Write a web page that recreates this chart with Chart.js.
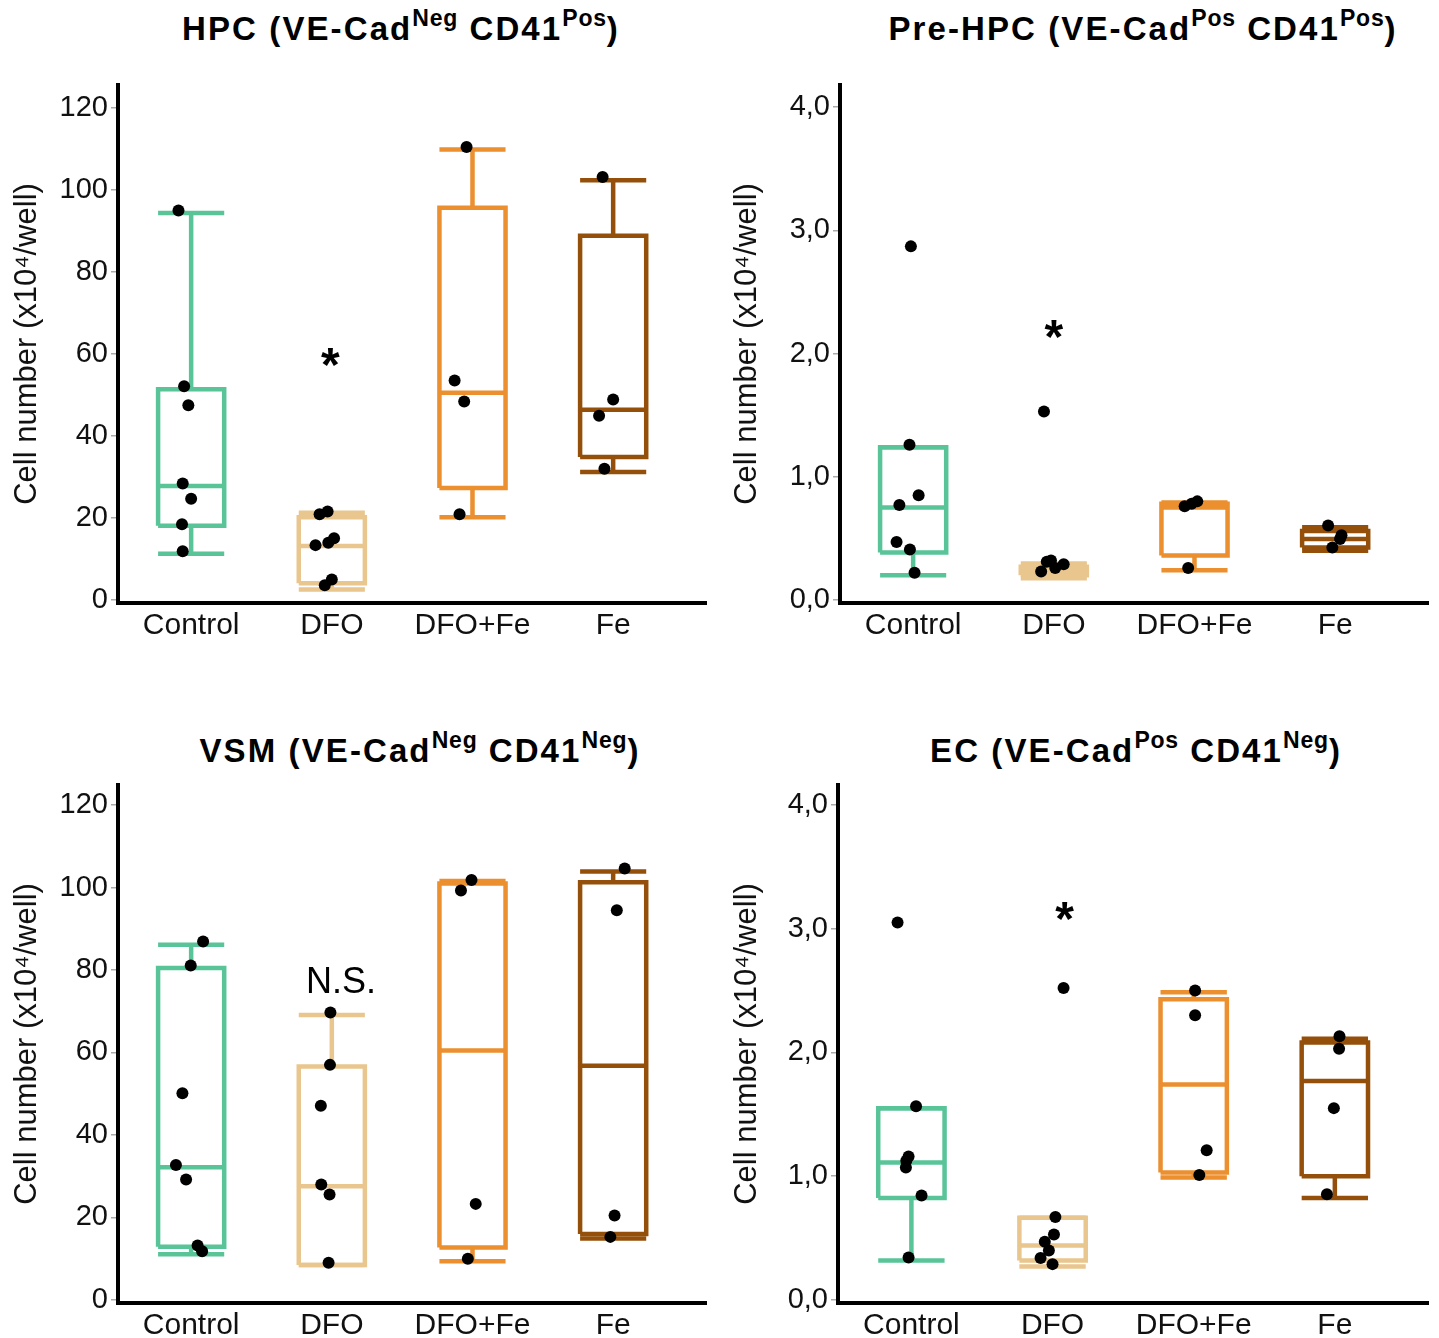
<!DOCTYPE html>
<html lang="en">
  <head>
    <meta charset="UTF-8" />
    <title>Cell numbers by treatment</title>
    <script src="https://cdn.jsdelivr.net/npm/chart.js@4"></script>
    <style>
      body {
        margin: 0;
        background: #fff;
        width: 1439px;
        height: 1338px;
        overflow: hidden;
        position: relative;
        font-family: "Liberation Sans", Arial, sans-serif;
      }
      .panel { position: absolute; }
      .title {
        position: absolute;
        font-weight: bold;
        font-size: 33px;
        letter-spacing: 2.1px;
        white-space: nowrap;
        transform: translateX(-50%);
        color: #000;
      }
      .title sup { font-size: 23px; vertical-align: 0.6em; line-height: 0; letter-spacing: 0.8px; }
    </style>
  </head>
  <body>
    <div class="title" style="left: 401px; top: 10px">HPC (VE-Cad<sup>Neg</sup> CD41<sup>Pos</sup>)</div>
    <div class="title" style="left: 1143px; top: 10px">Pre-HPC (VE-Cad<sup>Pos</sup> CD41<sup>Pos</sup>)</div>
    <div class="title" style="left: 420px; top: 732px">VSM (VE-Cad<sup>Neg</sup> CD41<sup>Neg</sup>)</div>
    <div class="title" style="left: 1136px; top: 732px">EC (VE-Cad<sup>Pos</sup> CD41<sup>Neg</sup>)</div>

    <div class="panel" style="left: 0; top: 0"><canvas id="hpc" width="720" height="660"></canvas></div>
    <div class="panel" style="left: 720px; top: 0"><canvas id="prehpc" width="719" height="660"></canvas></div>
    <div class="panel" style="left: 0; top: 700px"><canvas id="vsm" width="720" height="638"></canvas></div>
    <div class="panel" style="left: 720px; top: 700px"><canvas id="ec" width="719" height="638"></canvas></div>

    <script>
      const categories = ["Control", "DFO", "DFO+Fe", "Fe"];
      const colors = ["#58c498", "#eac68f", "#eb8f2f", "#94500a"];
      const countTicks = [0, 20, 40, 60, 80, 100, 120];
      const ratioTicks = [0, 1, 2, 3, 4];

      // box stats per group: [low whisker, Q1, median, Q3, high whisker]
      const hpcBoxes = [
        [11.3, 18.1, 27.8, 51.4, 94.3],
        [2.6, 4.1, 13.2, 20.2, 21.3],
        [20.2, 27.3, 50.5, 95.6, 109.8],
        [31.2, 34.9, 46.4, 88.8, 102.3],
      ];
      const hpcPoints = [
        [94.9, 52.1, 47.5, 28.4, 24.7, 18.5, 11.9],
        [20.9, 21.6, 13.4, 14.0, 15.1, 5.0, 3.6],
        [110.4, 53.5, 48.4, 20.9],
        [103.1, 48.9, 44.9, 32.0],
      ];
      const hpcJitter = [
        [-0.09, -0.05, -0.02, -0.06, 0.0, -0.065, -0.06],
        [-0.087, -0.03, -0.116, -0.025, 0.016, 0.0, -0.05],
        [-0.042, -0.127, -0.059, -0.092],
        [-0.075, 0.0, -0.1, -0.062],
      ];
      const hpcMarks = ["", "*", "", ""];
      const hpcMarkX = [1, 1.99, 3, 4];
      const hpcMarkY = [null, 60, null, null];

      const prehpcBoxes = [
        [0.2, 0.385, 0.75, 1.24, 1.24],
        [0.175, 0.2, 0.235, 0.27, 0.295],
        [0.24, 0.36, 0.75, 0.78, 0.79],
        [0.4, 0.425, 0.495, 0.56, 0.59],
      ];
      const prehpcPoints = [
        [2.87, 1.26, 0.85, 0.77, 0.47, 0.41, 0.22],
        [1.53, 0.31, 0.32, 0.26, 0.29, 0.23],
        [0.76, 0.78, 0.8, 0.26],
        [0.605, 0.525, 0.495, 0.425],
      ];
      const prehpcJitter = [
        [-0.016, -0.026, 0.039, -0.098, -0.118, -0.023, 0.01],
        [-0.07, -0.05, -0.02, 0.01, 0.07, -0.09],
        [-0.07, -0.02, 0.02, -0.045],
        [-0.05, 0.045, 0.035, -0.02],
      ];
      const prehpcMarks = ["", "*", "", ""];
      const prehpcMarkX = [1, 2, 3, 4];
      const prehpcMarkY = [null, 2.23, null, null];

      const vsmBoxes = [
        [11.1, 12.9, 32.2, 80.5, 86.1],
        [8.5, 8.5, 27.6, 56.6, 69.1],
        [9.4, 12.7, 60.5, 101.0, 101.6],
        [14.9, 16.0, 56.8, 101.3, 103.9],
      ];
      const vsmPoints = [
        [86.9, 81.1, 50.1, 32.7, 29.2, 13.2, 11.8],
        [69.7, 57.0, 47.1, 28.0, 25.6, 9.0],
        [101.8, 99.3, 23.3, 10.0],
        [104.6, 94.5, 20.5, 15.3],
      ];
      const vsmJitter = [
        [0.085, -0.003, -0.062, -0.108, -0.036, 0.046, 0.078],
        [-0.01, -0.013, -0.078, -0.075, -0.016, -0.023],
        [-0.007, -0.082, 0.023, -0.033],
        [0.082, 0.026, 0.01, -0.02],
      ];
      const vsmMarks = ["", "N.S.", "", ""];
      const vsmMarkX = [1, 2.065, 3, 4];
      const vsmMarkY = [null, 77.6, null, null];

      const ecBoxes = [
        [0.32, 0.825, 1.11, 1.55, 1.55],
        [0.27, 0.32, 0.44, 0.665, 0.665],
        [0.99, 1.03, 1.74, 2.43, 2.485],
        [0.825, 1.0, 1.77, 2.08, 2.11],
      ];
      const ecPoints = [
        [3.05, 1.565, 1.16, 1.125, 1.07, 0.845, 0.343],
        [2.52, 0.67, 0.53, 0.47, 0.4, 0.34, 0.29],
        [2.5, 2.3, 1.21, 1.01],
        [2.13, 2.03, 1.55, 0.855],
      ];
      const ecJitter = [
        [-0.098, 0.033, -0.02, -0.036, -0.039, 0.072, -0.02],
        [0.078, 0.02, 0.01, -0.055, -0.026, -0.085, 0.0],
        [0.01, 0.01, 0.092, 0.04],
        [0.033, 0.03, -0.007, -0.056],
      ];
      const ecMarks = ["", "*", "", ""];
      const ecMarkX = [1, 2.085, 3, 4];
      const ecMarkY = [null, 3.17, null, null];

      const FONT = "'Liberation Sans', Arial, sans-serif";
      const HALF = 0.235;

      // asterisks / N.S. above the DFO group
      const markPlugin = {
        id: "marks",
        afterDatasetsDraw(chart, args, opts) {
          const { ctx, scales } = chart;
          ctx.save();
          ctx.fillStyle = "#000";
          ctx.textAlign = "center";
          ctx.textBaseline = "alphabetic";
          opts.text.forEach((t, i) => {
            if (!t) return;
            const cx = scales.x.getPixelForValue(opts.x[i]);
            const cy = scales.y.getPixelForValue(opts.y[i]);
            if (t === "*") {
              ctx.font = "bold 48px " + FONT;
              ctx.fillText(t, cx, cy + 0.57 * 48);
            } else {
              ctx.font = "36px " + FONT;
              ctx.fillText(t, cx, cy + 0.358 * 36);
            }
          });
          ctx.restore();
        },
      };

      const lineSet = (data, color) => ({
        type: "scatter",
        data,
        showLine: true,
        fill: false,
        borderColor: color,
        borderWidth: 4.5,
        borderJoinStyle: "miter",
        pointRadius: 0,
        pointHoverRadius: 0,
        order: 2,
      });

      const buildPanel = (id, boxes, points, jitter, marks, markX, markY, o) => {
        const datasets = [];
        datasets.push({
          type: "scatter",
          data: points.flatMap((vals, i) =>
            vals.map((v, k) => ({ x: i + 1 + jitter[i][k], y: v }))
          ),
          backgroundColor: "#000",
          borderColor: "#000",
          pointRadius: 6,
          pointBorderWidth: 0,
          order: 0,
        });
        boxes.forEach(([lo, q1, med, q3, hi], i) => {
          const c = i + 1;
          const col = colors[i];
          datasets.push(lineSet([
            { x: c - HALF, y: q1 }, { x: c + HALF, y: q1 },
            { x: c + HALF, y: q3 }, { x: c - HALF, y: q3 },
            { x: c - HALF, y: q1 },
          ], col));
          datasets.push(lineSet([{ x: c - HALF, y: med }, { x: c + HALF, y: med }], col));
          datasets.push(lineSet([{ x: c, y: q3 }, { x: c, y: hi }], col));
          datasets.push(lineSet([{ x: c - HALF, y: hi }, { x: c + HALF, y: hi }], col));
          datasets.push(lineSet([{ x: c, y: q1 }, { x: c, y: lo }], col));
          datasets.push(lineSet([{ x: c - HALF, y: lo }, { x: c + HALF, y: lo }], col));
        });

        new Chart(document.getElementById(id), {
          type: "scatter",
          data: { datasets },
          plugins: [markPlugin],
          options: {
            responsive: false,
            animation: false,
            layout: { padding: { top: 85, right: o.right, left: 0, bottom: 0 } },
            plugins: {
              legend: { display: false },
              tooltip: { enabled: false },
              marks: { text: marks, x: markX, y: markY },
            },
            scales: {
              x: {
                type: "linear",
                min: 0.48,
                max: 4.66,
                afterBuildTicks: (s) => { s.ticks = categories.map((_, i) => ({ value: i + 1 })); },
                afterFit: (s) => { s.height = o.xHeight; },
                grid: { display: false },
                border: { display: true, color: "#000", width: 4 },
                ticks: {
                  callback: (v) => categories[v - 1],
                  font: { size: 30, family: FONT },
                  color: "#111",
                  padding: -3,
                  maxRotation: 0,
                  autoSkip: false,
                },
              },
              y: {
                min: o.min,
                max: o.max,
                afterBuildTicks: (s) => { s.ticks = o.ticks.map((v) => ({ value: v })); },
                afterFit: (s) => { s.width = o.yWidth; },
                grid: {
                  display: true,
                  drawOnChartArea: false,
                  drawTicks: true,
                  tickLength: 7,
                  color: "#aaa",
                  lineWidth: 1.5,
                },
                border: { display: true, color: "#000", width: 4 },
                ticks: {
                  callback: o.fmt,
                  font: { size: 29, family: FONT },
                  color: "#111",
                  padding: 3,
                },
                title: {
                  display: true,
                  text: "Cell number (x10\u2074/well)",
                  font: { size: 31, family: FONT },
                  color: "#111",
                  padding: { top: 9, bottom: 0 },
                },
              },
            },
          },
        });
      };

      const intFmt = (v) => String(v);
      const commaFmt = (v) => v.toFixed(1).replace(".", ",");

      buildPanel("hpc", hpcBoxes, hpcPoints, hpcJitter, hpcMarks, hpcMarkX, hpcMarkY,
        { right: 14, xHeight: 57, yWidth: 118, min: -0.7, max: 125.5, ticks: countTicks, fmt: intFmt });
      buildPanel("prehpc", prehpcBoxes, prehpcPoints, prehpcJitter, prehpcMarks, prehpcMarkX, prehpcMarkY,
        { right: 11, xHeight: 57, yWidth: 120, min: -0.025, max: 4.18, ticks: ratioTicks, fmt: commaFmt });
      buildPanel("vsm", vsmBoxes, vsmPoints, vsmJitter, vsmMarks, vsmMarkX, vsmMarkY,
        { right: 14, xHeight: 35, yWidth: 118, min: -0.73, max: 124.85, ticks: countTicks, fmt: intFmt });
      buildPanel("ec", ecBoxes, ecPoints, ecJitter, ecMarks, ecMarkX, ecMarkY,
        { right: 11, xHeight: 35, yWidth: 118, min: -0.024, max: 4.16, ticks: ratioTicks, fmt: commaFmt });
    </script>
  </body>
</html>
